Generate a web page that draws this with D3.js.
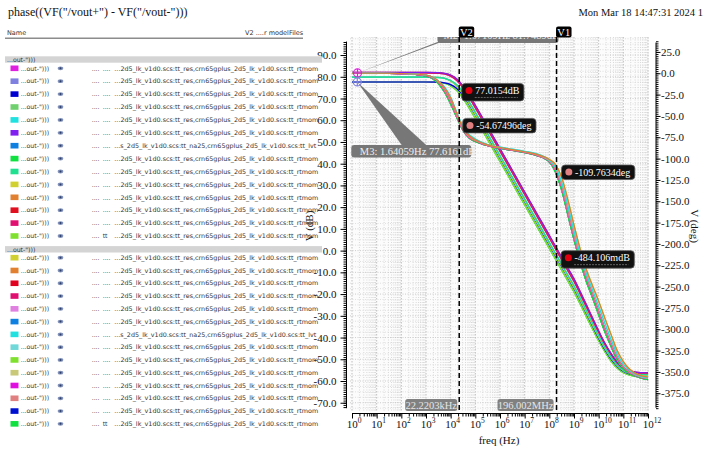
<!DOCTYPE html>
<html><head><meta charset="utf-8">
<script src="https://cdn.jsdelivr.net/npm/d3@7"></script>
<style>body{margin:0;background:#fff;overflow:hidden}</style>
</head><body>
<svg id="c" width="707" height="453"></svg>
<script>
// ---------------- DATA ----------------
const titleText = 'phase((VF("/vout+") - VF("/vout-")))';
const dateText = 'Mon Mar 18 14:47:31 2024  1';

const freqs = [1,10,100,1e3,3.162e3,5.623e3,1e4,1.778e4,3.162e4,5.623e4,1e5,3.162e5,1e6,3.162e6,1e7,3.162e7,1e8,1.778e8,3.162e8,5.623e8,1e9,1.778e9,3.162e9,5.623e9,1e10,1.778e10,3.162e10,5.623e10,1e11,3.162e11,1e12];

// magnitude (dB) shapes
const magA = [82.0,82.0,82.0,82.0,81.9,81.6,80.8,79.0,75.8,71.6,66.9,57.0,47.0,37.0,27.0,17.0,7.0,2.0,-3.0,-8.0,-13.0,-18.8,-24.8,-30.9,-36.9,-42.5,-47.3,-51.3,-54.0,-55.9,-56.2];
const magB = [81.8,81.8,81.8,81.8,81.6,81.3,80.3,78.3,74.9,70.5,65.7,55.8,45.8,35.8,25.8,15.8,5.8,0.8,-4.2,-9.2,-14.2,-19.9,-25.8,-31.8,-37.6,-43.1,-47.8,-51.6,-54.2,-56.1,-56.4];
const magC = [79.8,79.8,79.8,79.8,79.6,79.3,78.3,76.3,72.9,68.5,63.7,53.8,43.8,33.8,23.8,13.8,3.8,-1.2,-6.2,-11.2,-16.2,-21.8,-27.6,-33.4,-39.2,-44.5,-49.0,-52.6,-55.0,-56.8,-57.1];
const magD = [77.6,77.6,77.6,77.6,77.5,77.2,76.4,74.6,71.4,67.2,62.5,52.6,42.6,32.6,22.6,12.6,2.6,-2.4,-7.4,-12.4,-17.4,-23.0,-28.8,-34.6,-40.3,-45.5,-49.8,-53.2,-55.5,-57.2,-57.5];
const magE = [77.6,77.6,77.6,77.6,77.4,77.0,75.8,73.6,70.0,65.6,60.8,51.0,41.0,31.0,21.0,11.0,1.0,-4.0,-9.0,-14.0,-19.0,-24.6,-30.4,-36.0,-41.5,-46.5,-50.8,-54.1,-56.2,-57.8,-58.2];
const magF = [79.9,79.9,79.9,79.9,79.7,79.3,78.0,75.6,72.0,67.5,62.7,52.9,42.9,32.9,22.9,12.9,2.9,-2.1,-7.1,-12.1,-17.1,-22.7,-28.5,-34.2,-39.8,-45.0,-49.4,-52.9,-55.3,-57.0,-57.4];

// phase (deg) shapes
const phA = [0,0,-0.3,-2,-9,-17,-29,-47,-64,-73,-78,-84,-87,-89.5,-92,-95,-101,-107,-122,-148,-178,-206,-230,-249,-267,-287,-306,-325,-338,-352,-356];
const phB = [0,0,-0.3,-2,-9,-16,-28,-46,-62,-72,-77,-83.5,-86.5,-89,-91.5,-94.5,-102,-110,-128,-155,-185,-212,-235,-254,-273,-293,-312,-329,-341,-353,-357];
const phC = [0,0,-0.4,-2.5,-10,-20,-33,-50,-66,-75,-79,-84.5,-87.5,-90,-92.5,-96,-103,-113,-133,-162,-191,-217,-240,-259,-279,-299,-317,-333,-344,-354,-358];
const phD = [0,0,-0.5,-3,-12,-22,-36,-52,-67,-76,-80,-85,-88,-90.5,-93,-96.5,-104,-116,-137,-166,-195,-221,-244,-263,-283,-303,-320,-336,-346,-355,-359];

// legend group 1 (dB traces) and group 2 (phase traces)
const magColors = ["#e020e0","#8080e0","#0000d0","#70d070","#20e0e0","#8020f0","#1080e0","#10e040","#20e090","#d0d030","#e08030","#e01020","#e01070","#80e030"];
const magShapeOf = ["B","D","D","E","C","A","F","E","C","F","B","A","B","E"];
const phColors = ["#d0d030","#e08030","#e00020","#e01070","#e080e0","#1080e0","#20e0e0","#70d8d8","#80e030","#c8c878","#e010e0","#e08080","#0010d0","#10e040"];
const phShapeOf = ["A","A","C","C","C","D","B","B","D","A","C","C","D","D"];
const magDrawOrder = [3,7,13,1,2,6,9,4,8,0,10,12,11,5];
const phDrawOrder = [9,0,12,5,8,13,2,3,4,10,11,7,6,1];

const fileStd = "...2d5_lk_v1d0.scs:tt_res,crn65gplus_2d5_lk_v1d0.scs:tt_rtmom";
const fileLvt = "...s_2d5_lk_v1d0.scs:tt_na25,crn65gplus_2d5_lk_v1d0.scs:tt_lvt";
const magFiles = [fileStd,fileStd,fileStd,fileStd,fileStd,fileStd,fileLvt,fileStd,fileStd,fileStd,fileStd,fileStd,fileStd,fileStd];
const phFiles = [fileStd,fileStd,fileStd,fileStd,fileStd,fileStd,fileLvt,fileStd,fileStd,fileStd,fileStd,fileStd,fileStd,fileStd];
const magCol2 = ["....","....","....","....","....","....","....","....","....","....","....","....","....","tt"];
const phCol2 = ["....","....","....","....","....","....","....","....","....","....","....","....","....","tt"];

// ticks
const yLeftTicks = [90,80,70,60,50,40,30,20,10,0,-10,-20,-30,-40,-50,-60,-70];
const yRightTicks = [25,0,-25,-50,-75,-100,-125,-150,-175,-200,-225,-250,-275,-300,-325,-350,-375];
const xTickExps = [0,1,2,3,4,5,6,7,8,9,10,11,12];

// cursors and markers
const cursorV2 = 22220.3, cursorV1 = 196.002e6;
const mkV2dB = "77.0154dB", mkV2deg = "-54.67496deg", mkV1deg = "-109.7634deg", mkV1dB = "-484.106mdB";
const mkV2dBv = 77.0154, mkV2degv = -54.67496, mkV1degv = -109.7634, mkV1dBv = -0.484106;
const m3Freq = 1.64059, m3dB = 77.6161;
const m2Freq = 1.67109, m2dB = 81.7489;

// ---------------- DRAW ----------------
const SERIF = "'Liberation Serif','DejaVu Serif',serif";
const SANS = "'DejaVu Sans','Liberation Sans',sans-serif";
const svg = d3.select("#c");
const shapesMag = {A:magA,B:magB,C:magC,D:magD,E:magE,F:magF};
const shapesPh = {A:phA,B:phB,C:phC,D:phD};

const P = {l:350, r:649, t:37, b:411};
const x = d3.scaleLog().domain([1,1e12]).range([352,648]);
const yL = d3.scaleLinear().domain([-73.8,98.3]).range([411,37]);
const yR = d3.scaleLinear().domain([-395.8,42.5]).range([411,37]);

svg.append("defs").append("clipPath").attr("id","pc")
  .append("rect").attr("x",P.l).attr("y",P.t).attr("width",P.r-P.l).attr("height",P.b-P.t);

// header
svg.append("text").attr("x",8).attr("y",16).attr("font-family",SERIF).attr("font-size",12).attr("fill","#111").text(titleText);
svg.append("text").attr("x",703).attr("y",16).attr("text-anchor","end").attr("font-family",SERIF).attr("font-size",10.5)
  .attr("fill","#111").text(dateText);

// grid
const grid = svg.append("g").attr("clip-path","url(#pc)");
grid.append("rect").attr("x",P.l).attr("y",P.t).attr("width",P.r-P.l).attr("height",P.b-P.t).attr("fill","#fcfcfc");
const vMinor = [];
for (let k=0;k<12;k++) for (let m=2;m<=9;m++) vMinor.push(m*Math.pow(10,k));
grid.selectAll(".vm").data(vMinor).join("line")
  .attr("x1",d=>x(d)).attr("x2",d=>x(d)).attr("y1",P.t).attr("y2",P.b)
  .attr("stroke","#cfcfcf").attr("stroke-width",0.8).attr("stroke-dasharray","1,1.5");
grid.selectAll(".vM").data(xTickExps).join("line")
  .attr("x1",d=>x(Math.pow(10,d))).attr("x2",d=>x(Math.pow(10,d))).attr("y1",P.t).attr("y2",P.b)
  .attr("stroke","#b8b8b8").attr("stroke-width",0.9).attr("stroke-dasharray","1.5,1.5");
grid.selectAll(".hm").data(d3.range(-72.5,98,2.5)).join("line")
  .attr("x1",P.l).attr("x2",P.r).attr("y1",d=>yL(d)).attr("y2",d=>yL(d))
  .attr("stroke",d=>d%10===0?"#c2c2c2":"#d8d8d8").attr("stroke-width",0.8).attr("stroke-dasharray","1,1.5");

// left axis
const axL = svg.append("g").attr("transform","translate(346.5,0)");
axL.call(d3.axisLeft(yL).tickValues(d3.range(-72,97,1)).tickSize(3).tickFormat(""));
axL.call(g=>g.select(".domain").remove());
const axL2 = svg.append("g").attr("transform","translate(346.5,0)");
axL2.call(d3.axisLeft(yL).tickValues(yLeftTicks).tickSize(6).tickPadding(4).tickFormat(d=>d.toFixed(1)));
axL2.call(g=>g.select(".domain").remove());
axL2.selectAll("text").attr("font-family",SERIF).attr("font-size",11).attr("fill","#111");
svg.append("line").attr("x1",346.5).attr("x2",346.5).attr("y1",yL(96.2)).attr("y2",yL(-72.5)).attr("stroke","#000");

// right axis
const axR = svg.append("g").attr("transform","translate(656,0)");
axR.call(d3.axisRight(yR).tickValues(d3.range(-392.5,40,2.5)).tickSize(2.5).tickFormat(""));
axR.call(g=>g.select(".domain").remove());
const axR2 = svg.append("g").attr("transform","translate(656,0)");
axR2.call(d3.axisRight(yR).tickValues(yRightTicks).tickSize(4.5).tickPadding(0.5).tickFormat(d=>d.toFixed(1)));
axR2.call(g=>g.select(".domain").remove());
axR2.selectAll("text").attr("font-family",SERIF).attr("font-size",11).attr("fill","#111");
svg.append("line").attr("x1",656).attr("x2",656).attr("y1",yR(36)).attr("y2",yR(-392)).attr("stroke","#000");

// x axis
const axX = svg.append("g").attr("transform","translate(0,413.5)");
axX.call(d3.axisBottom(x).tickValues(vMinor).tickSize(3).tickFormat(""));
axX.call(g=>g.select(".domain").remove());
const axX2 = svg.append("g").attr("transform","translate(0,413.5)");
axX2.call(d3.axisBottom(x).tickValues(xTickExps.map(e=>Math.pow(10,e))).tickSize(5).tickFormat(""));
axX2.call(g=>g.select(".domain").remove());
svg.selectAll(".tick line").attr("stroke","#000");
svg.append("line").attr("x1",352).attr("x2",648).attr("y1",413.5).attr("y2",413.5).attr("stroke","#000");
const xl = svg.append("g").attr("font-family",SERIF).attr("fill","#111");
xTickExps.forEach(e=>{
  const t = xl.append("text").attr("x",x(Math.pow(10,e))-5.3).attr("y",427.5).attr("font-size",11);
  t.append("tspan").text("10");
  t.append("tspan").attr("dy",-5).attr("font-size",7.5).text(String(e));
});
svg.append("text").attr("x",499).attr("y",444).attr("text-anchor","middle").attr("font-family",SERIF).attr("font-size",11).attr("fill","#111").text("freq (Hz)");

// axis titles
svg.append("text").attr("transform","translate(313,226) rotate(-90)").attr("text-anchor","middle")
  .attr("font-family",SERIF).attr("font-size",11).attr("fill","#111").text("V (dB)");
svg.append("text").attr("transform","translate(691,226) rotate(90)").attr("text-anchor","middle")
  .attr("font-family",SERIF).attr("font-size",11).attr("fill","#111").text("V (deg)");

// curves
const curves = svg.append("g").attr("clip-path","url(#pc)").attr("fill","none").attr("stroke-width",1.2);
const lineL = d3.line().x((d,i)=>x(freqs[i])).y(d=>yL(d)).curve(d3.curveMonotoneX);
const lineR = d3.line().x((d,i)=>x(freqs[i])).y(d=>yR(d)).curve(d3.curveMonotoneX);
magDrawOrder.forEach(i=>{
  curves.append("path").attr("d",lineL(shapesMag[magShapeOf[i]])).attr("stroke",magColors[i]);
});
phDrawOrder.forEach(i=>{
  curves.append("path").attr("d",lineR(shapesPh[phShapeOf[i]])).attr("stroke",phColors[i]);
});

// marker pointers and boxes (clipped to plot)
const ann = svg.append("g").attr("clip-path","url(#pc)");
const m3x = x(m3Freq), m3y = yL(m3dB), m2x = x(m2Freq), m2y = yL(m2dB);
ann.append("polygon").attr("points",`${m3x},${m3y} ${m3x+45},${m3y+64} ${m3x+70},${m3y+64}`).attr("fill","#777");
ann.append("polygon").attr("points",`${m2x},${m2y} ${m2x+80},${m2y-31} ${m2x+100},${m2y-37}`).attr("fill","#777");
ann.append("rect").attr("x",m3x-6).attr("y",m3y+63).attr("width",120).attr("height",12.5).attr("rx",3).attr("fill","#777");
ann.append("text").attr("x",m3x+2.5).attr("y",m3y+73).attr("font-family",SERIF).attr("font-size",10.5).attr("fill","#eeeeee")
  .text(`M3: ${m3Freq}Hz ${m3dB}dB`);
ann.append("rect").attr("x",m2x+80).attr("y",m2y-43).attr("width",121).attr("height",13).attr("rx",3).attr("fill","#777");
ann.append("text").attr("x",m2x+86).attr("y",m2y-33.5).attr("font-family",SERIF).attr("font-size",10.5).attr("fill","#eeeeee")
  .text(`M2: ${m2Freq}Hz ${m2dB}dB`);
// marker circles
[[m2x,m2y,"#e020e0"],[m3x,m3y,"#8080e0"]].forEach(([cx,cy,c])=>{
  const g = svg.append("g").attr("stroke",c).attr("stroke-width",1.2).attr("fill","none");
  g.append("circle").attr("cx",cx).attr("cy",cy).attr("r",4);
  g.append("line").attr("x1",cx-4).attr("x2",cx+4).attr("y1",cy).attr("y2",cy);
  g.append("line").attr("x1",cx).attr("x2",cx).attr("y1",cy-4).attr("y2",cy+4);
});

// cursor lines
[[cursorV2,"V2"],[cursorV1,"V1"]].forEach(([f,lab])=>{
  const cx = x(f);
  svg.append("line").attr("x1",cx).attr("x2",cx).attr("y1",P.t).attr("y2",P.b)
    .attr("stroke","#000").attr("stroke-width",1.5).attr("stroke-dasharray","5,3");
  svg.append("rect").attr("x",cx-0.5).attr("y",26.5).attr("width",15.5).attr("height",11).attr("rx",2).attr("fill","#000");
  svg.append("text").attr("x",cx+7.2).attr("y",35.5).attr("text-anchor","middle").attr("font-family",SERIF).attr("font-size",10.5).attr("fill","#fff").text(lab);
});

// value marker boxes
function valueBox(x0, top, h, dot, label, faint){
  const g = svg.append("g");
  const r = g.append("rect").attr("x",x0).attr("y",top).attr("height",h).attr("rx",3.5)
    .attr("fill","#111").attr("stroke","#5a5a5a").attr("stroke-width",0.8);
  g.append("circle").attr("cx",x0+7.3).attr("cy",top+7).attr("r",3.5).attr("fill",dot);
  const t = g.append("text").attr("x",x0+13.5).attr("y",top+10.6).attr("font-family",SERIF).attr("font-size",10).attr("fill","#fff").text(label);
  const w = t.node().getComputedTextLength() + 18;
  r.attr("width",w);
  if (faint) g.append("line").attr("x1",x0+13).attr("x2",x0+w-6).attr("y1",top+h-3.5).attr("y2",top+h-3.5)
    .attr("stroke","#777").attr("stroke-width",0.8).attr("stroke-dasharray","2,1");
}
valueBox(x(cursorV2)+2.5, yL(mkV2dBv)+0.2, 17.5, "#e00010", mkV2dB, true);
valueBox(x(cursorV2)+3.5, yR(mkV2degv)-1.5, 14.5, "#e08080", mkV2deg, false);
valueBox(x(cursorV1)+5, yR(mkV1degv)-1.9, 14.5, "#e08080", mkV1deg, false);
valueBox(x(cursorV1)+4.5, yL(mkV1dBv)-1, 17.5, "#e00010", mkV1dB, true);

// bottom cursor value labels
function grayBox(xr, label, w){
  svg.append("rect").attr("x",xr-w).attr("y",399).attr("width",w).attr("height",12).attr("rx",2.5).attr("fill","#808080");
  svg.append("text").attr("x",xr-w/2).attr("y",408.8).attr("text-anchor","middle").attr("font-family",SERIF).attr("font-size",10.5).attr("fill","#e6e6e6").text(label);
}
grayBox(x(cursorV2)-2, "22.2203kHz", 52);
grayBox(x(cursorV1)-3, "196.002MHz", 56);

// ---------------- LEGEND ----------------
const lg = svg.append("g").attr("font-family",SANS).attr("fill","#333");
lg.append("text").attr("x",7).attr("y",34.5).attr("font-size",6.5).text("Name");
lg.append("text").attr("x",245).attr("y",34.5).attr("font-size",6.5).text("V2 ....r modelFiles");
lg.append("line").attr("x1",5).attr("x2",303).attr("y1",38.3).attr("y2",38.3).attr("stroke","#8c8c8c").attr("stroke-width",1.5);

function group(headerY, row0, dy, colors, files, col2){
  lg.append("rect").attr("x",5).attr("y",headerY-3.2).attr("width",317).attr("height",6.4).attr("fill","#d4d4d4");
  lg.append("text").attr("x",7).attr("y",headerY+2.2).attr("font-size",6.2).text('...out-")))');
  colors.forEach((c,i)=>{
    const cy = row0 + i*dy;
    lg.append("rect").attr("x",10.5).attr("y",cy-2.8).attr("width",8).attr("height",5.6).attr("fill",c);
    lg.append("text").attr("x",20.7).attr("y",cy+2.2).attr("font-size",6.2).text('...out-")))');
    lg.append("ellipse").attr("cx",60.5).attr("cy",cy).attr("rx",2.8).attr("ry",1.9).attr("fill","#8090b8");
    lg.append("circle").attr("cx",60.5).attr("cy",cy).attr("r",1).attr("fill","#2d3f6a");
    lg.append("text").attr("x",91.7).attr("y",cy+2.2).attr("font-size",6.2).text("....");
    lg.append("text").attr("x",102.7).attr("y",cy+2.2).attr("font-size",6.2).text(col2[i]);
    lg.append("text").attr("x",114.3).attr("y",cy+2.2).attr("font-size",6.2)
      .attr("textLength",files[i]===fileLvt?202:204).attr("lengthAdjust","spacingAndGlyphs").text(files[i]);
  });
}
group(59.5, 68.3, 12.9, magColors, magFiles, magCol2);
group(249.3, 257.7, 12.78, phColors, phFiles, phCol2);
</script>
</body></html>
